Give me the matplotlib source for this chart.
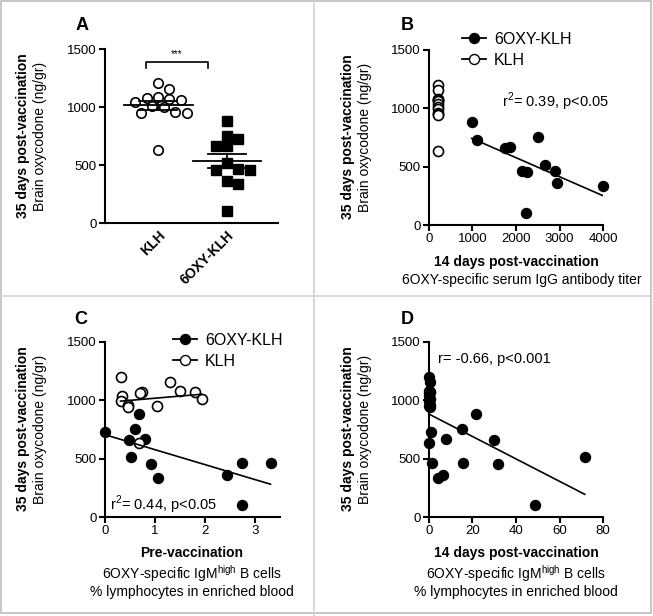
import numpy as np
import matplotlib
matplotlib.use('Agg')
import matplotlib.pyplot as plt
from matplotlib.lines import Line2D

plt.rcParams['font.family'] = ['Liberation Sans', 'DejaVu Sans']
plt.rcParams['mathtext.fontset'] = 'custom'
plt.rcParams['mathtext.rm'] = 'Liberation Sans'
plt.rcParams['mathtext.bf'] = 'Liberation Sans:bold'

# Daten -----------------------------------------------------------------
groups = ['KLH', '6OXY-KLH']

# Brain oxycodone, 35 days post-vaccination (ng/gr)
klh_brain = np.array([1204, 1153, 1084, 1075, 1070, 1061, 1040, 1009, 998, 961, 950, 946, 631])
oxy_brain = np.array([883, 751, 728, 668, 660, 516, 465, 459, 453, 358, 338, 106])

# B: serum IgG titer, 14 days
klh_titer = np.array([200] * 13)
oxy_titer = np.array([982, 2502, 1097, 1865, 1750, 2671, 2900, 2133, 2249, 2939, 3991, 2233])

# C: IgM high B cells, pre-vaccination (%)
klh_pre = np.array([0.31, 1.30, 1.50, 1.80, 0.73, 0.70, 0.33, 1.93, 0.32, 0.45, 1.04, 0.45, 0.67])
oxy_pre = np.array([0.67, 0.59, 0.0, 0.80, 0.47, 0.51, 3.31, 2.73, 0.91, 2.43, 1.06, 2.73])

# D: IgM high B cells, 14 days (%)
klh_d14 = np.array([0.2, 0.5, 0.1, 0.4, 0.3, 0.0, 0.2, 0.6, 0.1, 0.3, 0.0, 0.4, 0.0])
oxy_d14 = np.array([21.6, 15.4, 1.0, 7.6, 30.0, 71.6, 1.5, 15.7, 31.5, 6.6, 4.3, 48.9])

W, H = 653, 616
fig = plt.figure(figsize=(W / 100, H / 100), dpi=100)


def add_ax(left, right, top, bottom):
    return fig.add_axes([left / W, 1 - bottom / H, (right - left) / W, (bottom - top) / H])


def style(ax):
    for s in ['top', 'right']:
        ax.spines[s].set_visible(False)
    for s in ['left', 'bottom']:
        ax.spines[s].set_linewidth(1.5)
    ax.tick_params(width=1.5, length=4, labelsize=9.5, pad=2)
    ax.set_ylim(0, 1500)
    ax.set_yticks([0, 500, 1000, 1500])


def ylabel(x, y):
    fig.text(x / W, 1 - y / H, '35 days post-vaccination', rotation=90, fontsize=10,
             fontweight='bold', ha='center', va='center')
    fig.text((x + 17) / W, 1 - y / H, 'Brain oxycodone (ng/gr)', rotation=90, fontsize=10,
             ha='center', va='center')


def swarm(vals, sx, sy, d):
    # einfache Beeswarm-Verteilung in Pixelkoordinaten
    offs = np.zeros(len(vals))
    placed = []
    for i in np.argsort(vals)[::-1]:
        for k in [0, 1, -1, 2, -2, 3, -3, 4, -4, 5, -5]:
            ox = k * d * 0.6 / sx
            if all(np.hypot((ox - px) * sx, (vals[i] - py) * sy) >= d for px, py in placed):
                break
        offs[i] = ox
        placed.append((ox, vals[i]))
    return offs


def fitline(ax, x, y):
    k, b = np.polyfit(x, y, 1)
    xx = np.array([x.min(), x.max()])
    ax.plot(xx, k * xx + b, color='black', lw=1.2)


def legend(ax, x, y):
    hb = [Line2D([], [], color='black', marker='o', ms=7.2, lw=1.3),
          Line2D([], [], color='black', marker='o', mfc='white', ms=7.2, lw=1.3)]
    ax.legend(hb, ['6OXY-KLH', 'KLH'], loc='upper left', bbox_to_anchor=(x / W, 1 - y / H),
              bbox_transform=fig.transFigure, frameon=False, fontsize=11.5, handlelength=1.5,
              handletextpad=0.5, labelspacing=0.35, borderpad=0, borderaxespad=0)


# Rahmen
fig.add_artist(Line2D([314 / W, 314 / W], [0, 1], color='#d2d2d2', lw=1.2))
fig.add_artist(Line2D([0, 651 / W], [1 - 296.5 / H, 1 - 296.5 / H], color='#d2d2d2', lw=1.2))
fig.add_artist(plt.Rectangle((0.5 / W, 1 - 612.5 / H), 650 / W, 611.5 / H, fill=False,
                             edgecolor='#bdbdbd', lw=1.2))

# A ------------------------------------------------------------------
ax = add_ax(105, 278, 49, 223)
style(ax)
xmin, xmax = -0.77, 1.74
ax.set_xlim(xmin, xmax)
sx = 173 / (xmax - xmin)
sy = 174 / 1500
ax.plot(0 + swarm(klh_brain, sx, sy, 9.5), klh_brain, 'o', mfc='white', mec='black',
        mew=1.2, ms=6.8, clip_on=False)
ax.plot(1 + swarm(oxy_brain, sx, sy, 9.5), oxy_brain, 's', color='black', ms=6.8, clip_on=False)
for i, v in enumerate([klh_brain, oxy_brain]):
    m = v.mean()
    se = v.std(ddof=1) / np.sqrt(len(v))
    ax.plot([i - 0.5, i + 0.5], [m, m], color='black', lw=1.3)
    ax.plot([i, i], [m - se, m + se], color='black', lw=1.3)
    ax.plot([i - 0.28, i + 0.28], [m + se, m + se], color='black', lw=1.3)
    ax.plot([i - 0.28, i + 0.28], [m - se, m - se], color='black', lw=1.3)
ax.plot([-0.18, -0.18, 0.72, 0.72], [1334, 1391, 1391, 1334], color='black', lw=1.2)
ax.text(0.27, 1415, '***', ha='center', va='bottom', fontsize=7)
ax.set_xticks([0, 1])
ax.set_xticklabels(groups, rotation=45, ha='right', rotation_mode='anchor',
                   fontweight='bold', fontsize=10)
ax.tick_params(axis='x', length=0, pad=4)
ylabel(23, 136)
fig.text(82 / W, 1 - 25 / H, 'A', fontsize=13, fontweight='bold', ha='center', va='center')

# B ------------------------------------------------------------------
ax = add_ax(429, 603, 50, 225)
style(ax)
ax.set_xlim(0, 4000)
ax.set_xticks([0, 1000, 2000, 3000, 4000])
ax.plot(oxy_titer, oxy_brain, 'o', color='black', ms=7.2, clip_on=False)
ax.plot(klh_titer, klh_brain, 'o', mfc='white', mec='black', mew=1.2, ms=7.2, clip_on=False)
fitline(ax, oxy_titer, oxy_brain)
legend(ax, 462, 32)
ax.text(1678, 1054, 'r$^2$= 0.39, p<0.05', fontsize=10.5, ha='left', va='center')
ylabel(348, 137)
fig.text(516 / W, 1 - 262 / H, '14 days post-vaccination', fontsize=10, fontweight='bold',
         ha='center', va='center')
fig.text(522 / W, 1 - 280 / H, '6OXY-specific serum IgG antibody titer', fontsize=10,
         ha='center', va='center')
fig.text(407 / W, 1 - 25 / H, 'B', fontsize=13, fontweight='bold', ha='center', va='center')

# C ------------------------------------------------------------------
ax = add_ax(105, 280, 342, 517)
style(ax)
ax.set_xlim(0, 3.5)
ax.set_xticks([0, 1, 2, 3])
ax.plot(oxy_pre, oxy_brain, 'o', color='black', ms=7.2, clip_on=False)
ax.plot(klh_pre, klh_brain, 'o', mfc='white', mec='black', mew=1.2, ms=7.2, clip_on=False)
fitline(ax, oxy_pre, oxy_brain)
fitline(ax, klh_pre, klh_brain)
legend(ax, 173, 333)
ax.text(0.1, 103, 'r$^2$= 0.44, p<0.05', fontsize=10.5, ha='left', va='center')
ylabel(23, 429)
fig.text(192 / W, 1 - 553 / H, 'Pre-vaccination', fontsize=10, fontweight='bold',
         ha='center', va='center')
fig.text(192 / W, 1 - 574 / H, '6OXY-specific IgM$^{\\mathrm{high}}$ B cells', fontsize=10,
         ha='center', va='center')
fig.text(192 / W, 1 - 592 / H, '% lymphocytes in enriched blood', fontsize=10,
         ha='center', va='center')
fig.text(81 / W, 1 - 320 / H, 'C', fontsize=13, fontweight='bold', ha='center', va='center')

# D ------------------------------------------------------------------
ax = add_ax(429, 603, 342, 517)
style(ax)
ax.set_xlim(0, 80)
ax.set_xticks([0, 20, 40, 60, 80])
all_x = np.concatenate([klh_d14, oxy_d14])
all_y = np.concatenate([klh_brain, oxy_brain])
ax.plot(all_x, all_y, 'o', color='black', ms=7.2, clip_on=False)
fitline(ax, all_x, all_y)
ax.text(4.1, 1354, 'r= -0.66, p<0.001', fontsize=10.5, ha='left', va='center')
ylabel(348, 429)
fig.text(516 / W, 1 - 553 / H, '14 days post-vaccination', fontsize=10, fontweight='bold',
         ha='center', va='center')
fig.text(516 / W, 1 - 574 / H, '6OXY-specific IgM$^{\\mathrm{high}}$ B cells', fontsize=10,
         ha='center', va='center')
fig.text(516 / W, 1 - 592 / H, '% lymphocytes in enriched blood', fontsize=10,
         ha='center', va='center')
fig.text(407 / W, 1 - 320 / H, 'D', fontsize=13, fontweight='bold', ha='center', va='center')

fig.savefig('out.png', dpi=100)
